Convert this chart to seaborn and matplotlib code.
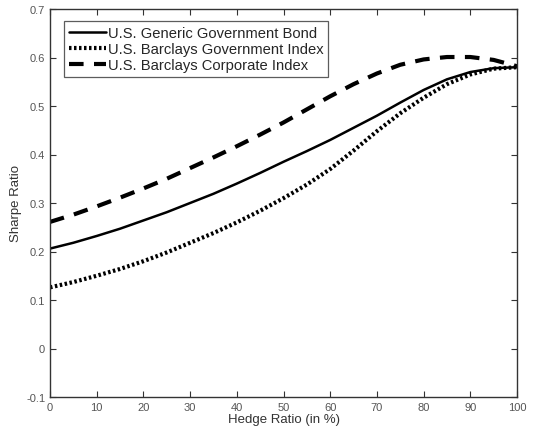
import matplotlib
matplotlib.use("Agg")
import matplotlib.pyplot as plt
import seaborn as sns
import pandas as pd

hedge = [0, 5, 10, 15, 20, 25, 30, 35, 40, 45, 50, 55, 60, 65, 70, 75, 80, 85, 90, 95, 100]
generic_bond = [0.206, 0.218, 0.232, 0.247, 0.264, 0.281, 0.300, 0.319, 0.340, 0.362, 0.385,
                0.407, 0.430, 0.455, 0.480, 0.507, 0.533, 0.555, 0.570, 0.578, 0.580]
barclays_gov = [0.126, 0.137, 0.150, 0.164, 0.180, 0.198, 0.218, 0.238, 0.260, 0.284, 0.310,
                0.338, 0.370, 0.408, 0.448, 0.485, 0.517, 0.545, 0.565, 0.577, 0.580]
barclays_corp = [0.261, 0.276, 0.293, 0.311, 0.330, 0.350, 0.372, 0.394, 0.417, 0.441, 0.466,
                 0.493, 0.520, 0.545, 0.567, 0.585, 0.596, 0.601, 0.601, 0.595, 0.582]
series_names = ["U.S. Generic Government Bond", "U.S. Barclays Government Index",
                "U.S. Barclays Corporate Index"]
x_ticks = [0, 10, 20, 30, 40, 50, 60, 70, 80, 90, 100]
y_ticks = [-0.1, 0, 0.1, 0.2, 0.3, 0.4, 0.5, 0.6, 0.7]
y_tick_labels = ["-0.1", "0", "0.1", "0.2", "0.3", "0.4", "0.5", "0.6", "0.7"]

sns.set_style("white")
plt.rcParams["font.family"] = ["Liberation Sans", "DejaVu Sans"]

fig = plt.figure(figsize=(5.5, 4.35), dpi=100)
ax = fig.add_axes([50/550, 37/435, 467/550, 388/435])

styles = [
    dict(linestyle="-", linewidth=1.8),
    dict(linestyle=(0, (0.6, 0.6)), linewidth=3.0),
    dict(linestyle=(0, (3.5, 2.5)), linewidth=3.0),
]
for name, vals, st in zip(series_names, [generic_bond, barclays_gov, barclays_corp], styles):
    df = pd.DataFrame({"x": hedge, "y": vals})
    sns.lineplot(data=df, x="x", y="y", ax=ax, color="black", label=name, **st)

ax.set_xlim(0, 100)
ax.set_ylim(-0.1, 0.7)
ax.set_xticks(x_ticks)
ax.set_xticklabels([str(t) for t in x_ticks])
ax.set_yticks(y_ticks)
ax.set_yticklabels(y_tick_labels)
ax.tick_params(direction="in", length=4, width=0.8, colors="#333333",
               labelcolor="#555555", labelsize=8, top=True, right=True,
               bottom=True, left=True)
for sp in ax.spines.values():
    sp.set_visible(True)
    sp.set_color("#333333")
    sp.set_linewidth(1.0)

ax.set_xlabel("Hedge Ratio (in %)", fontsize=9.5, color="#333333", labelpad=1)
ax.set_ylabel("Sharpe Ratio", fontsize=9.5, color="#333333", labelpad=3)

leg = ax.legend(loc="upper left", bbox_to_anchor=(0.030, 0.969), fontsize=10.65,
                frameon=True, fancybox=False, edgecolor="#333333",
                handlelength=2.5, handletextpad=0.15, borderpad=0.32,
                labelspacing=0.16, borderaxespad=0)
leg.get_frame().set_linewidth(0.9)

fig.savefig("out.png", dpi=100)
